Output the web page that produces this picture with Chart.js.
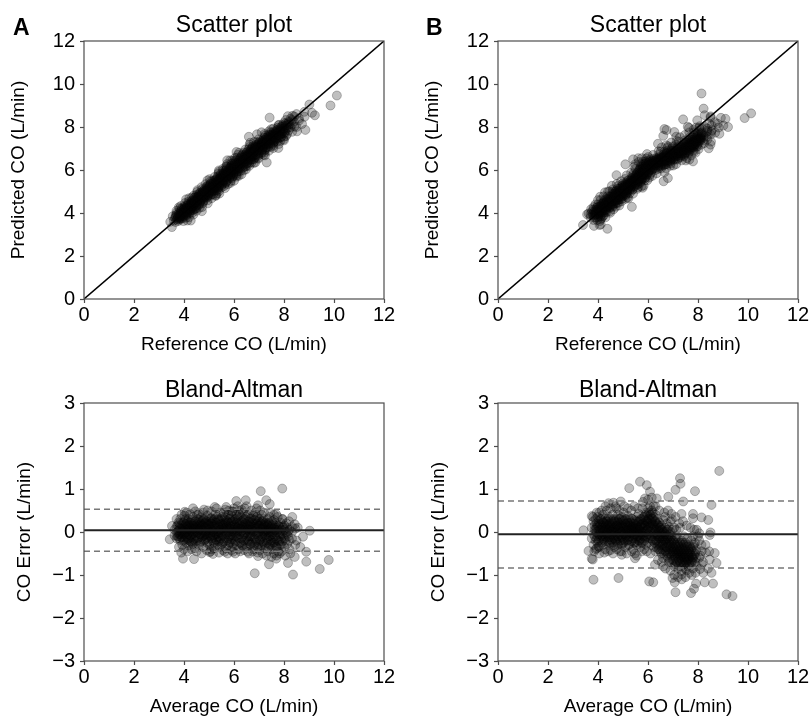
<!DOCTYPE html>
<html><head><meta charset="utf-8">
<script src="https://cdn.jsdelivr.net/npm/chart.js@4.4.1/dist/chart.umd.min.js"></script>
<style>
html,body{margin:0;padding:0;background:#fff;}
body{width:811px;height:718px;position:relative;overflow:hidden;}
.p{position:absolute;}
canvas{display:block;}
</style></head><body>
<div class="p" style="left:0;top:0;width:405px;height:360px"><canvas id="c1" width="405" height="360"></canvas></div>
<div class="p" style="left:414px;top:0;width:397px;height:360px"><canvas id="c2" width="397" height="360"></canvas></div>
<div class="p" style="left:0;top:360px;width:405px;height:358px"><canvas id="c3" width="405" height="358"></canvas></div>
<div class="p" style="left:414px;top:360px;width:397px;height:358px"><canvas id="c4" width="397" height="358"></canvas></div>
<script>
const FONT = "'Liberation Sans', Arial, sans-serif";

// axis ranges and tick labels
const scatterRange = [0, 12];
const errorRange = [-3, 3];
const xTicks = [0, 2, 4, 6, 8, 10, 12];
const scatterYTicks = [0, 2, 4, 6, 8, 10, 12];
const errorYTicks = [-3, -2, -1, 0, 1, 2, 3];

// Bland-Altman bias and limits of agreement
const biasA = 0.04, upperA = 0.53, lowerA = -0.45;
const biasB = -0.05, upperB = 0.72, lowerB = -0.84;

// Model A: [average CO, [CO errors...]]
const coreA = [
[3.62,[0.05,-0.08]],
[3.70,[0.12,-0.02,-0.15]],
[3.78,[0.22,0.03,-0.1]],
[3.85,[0.08,-0.2,0.3,-0.05]],
[3.93,[0.15,-0.12,0.02,-0.3]],
[4.02,[0.25,0.05,-0.18,-0.05,0.38]],
[4.10,[0.12,-0.25,0.0,0.2,-0.1]],
[4.18,[0.3,0.07,-0.15,-0.32,0.16]],
[4.27,[0.02,0.22,-0.08,0.1,-0.22]],
[4.35,[0.35,-0.05,0.15,-0.28,0.06]],
[4.43,[0.1,-0.15,0.25,0.0,-0.38]],
[4.52,[0.18,-0.02,0.4,-0.2,0.08]],
[4.60,[0.05,0.28,-0.12,-0.3,0.14]],
[4.68,[-0.06,0.2,0.1,-0.22,0.34]],
[4.77,[0.15,-0.1,0.03,0.3,-0.35]],
[4.85,[0.0,0.22,-0.18,0.12,-0.05]],
[4.93,[0.38,-0.25,0.08,0.18,-0.12]],
[5.02,[0.1,-0.3,0.25,-0.02,0.15]],
[5.10,[-0.15,0.05,0.32,0.2,-0.4]],
[5.18,[0.12,-0.08,0.0,0.28,-0.25]],
[5.27,[0.22,-0.18,0.08,0.42,-0.05]],
[5.35,[-0.3,0.15,0.02,-0.12,0.3]],
[5.43,[0.05,0.25,-0.2,0.12,-0.35]],
[5.52,[0.35,-0.1,0.18,0.0,-0.28]],
[5.60,[0.1,-0.22,0.3,0.05,0.45]],
[5.68,[-0.05,0.2,-0.38,0.12,0.28]],
[5.77,[0.4,0.0,-0.15,0.22,-0.3]],
[5.85,[0.15,-0.25,0.08,0.32,-0.08]],
[5.93,[-0.12,0.25,0.02,-0.35,0.48]],
[6.02,[0.3,0.1,-0.2,0.0,0.18]],
[6.10,[-0.3,0.2,0.4,-0.08,0.05]],
[6.18,[0.12,-0.15,0.28,-0.4,0.5]],
[6.27,[0.0,0.35,-0.25,0.15,0.08]],
[6.35,[0.22,-0.1,0.45,-0.32,0.1]],
[6.43,[-0.05,0.3,0.12,-0.2,0.55]],
[6.52,[0.18,-0.35,0.05,0.38,-0.12]],
[6.60,[0.25,0.02,-0.22,0.12,0.42]],
[6.68,[-0.1,0.32,0.15,-0.3,0.05]],
[6.77,[0.2,-0.18,0.38,0.0,-0.4]],
[6.85,[0.08,0.28,-0.25,0.12,0.45]],
[6.93,[-0.05,0.2,-0.35,0.35,0.1]],
[7.02,[0.15,-0.2,0.3,0.02,-0.42]],
[7.10,[0.25,-0.1,0.08,-0.3,0.4]],
[7.18,[-0.02,0.18,-0.25,0.3,0.1]],
[7.27,[0.12,-0.38,0.22,-0.12,0.02]],
[7.35,[-0.2,0.3,0.05,-0.45,0.15]],
[7.43,[0.2,-0.1,-0.3,0.08,0.35]],
[7.52,[-0.05,0.15,-0.4,0.25,-0.2]],
[7.60,[0.1,-0.25,0.0,-0.5,0.28]],
[7.68,[-0.15,0.2,-0.35,0.05]],
[7.77,[0.05,-0.2,0.15,-0.45]],
[7.85,[-0.1,0.22,-0.3,0.0]],
[7.93,[0.12,-0.22,-0.05,0.3]],
[8.02,[-0.15,0.05,-0.35,0.15]],
[8.12,[0.1,-0.28,-0.05]],
[8.22,[-0.2,0.05,-0.4]],
[8.32,[0.0,-0.15,0.12]],
[8.45,[-0.3,0.08]]
];
const denseA = [
[3.74,[0.0,0.15,-0.1]],
[3.81,[0.1,-0.05,0.2,-0.15]],
[3.89,[0.0,0.18,-0.12,0.08]],
[3.97,[0.22,-0.05,0.1,-0.2,0.02]],
[4.06,[0.08,-0.12,0.18,0.3,-0.02]],
[4.14,[-0.05,0.15,0.25,-0.18,0.05]],
[4.22,[0.1,-0.2,0.02,0.22,-0.08]],
[4.31,[0.15,-0.12,0.28,0.0,-0.25]],
[4.39,[-0.02,0.2,0.08,-0.18,0.12]],
[4.47,[0.25,-0.08,0.05,0.15,-0.22]],
[4.56,[0.0,0.12,-0.15,0.3,0.06]],
[4.64,[0.18,-0.05,-0.25,0.08,0.22]],
[4.72,[0.05,0.25,-0.12,-0.02,0.15]],
[4.81,[-0.2,0.1,0.2,-0.08,0.3]],
[4.89,[0.12,-0.15,0.02,0.25,-0.05]],
[4.97,[-0.08,0.18,0.05,-0.22,0.28]],
[5.06,[0.2,-0.1,0.08,-0.02,0.32]],
[5.14,[0.02,0.25,-0.2,0.12,-0.08]],
[5.22,[-0.12,0.15,0.3,0.05,-0.28]],
[5.31,[0.1,-0.05,0.22,-0.18,0.35]],
[5.39,[0.28,0.0,-0.1,0.12,-0.22]],
[5.47,[-0.15,0.18,0.05,0.3,-0.02]],
[5.56,[0.08,-0.25,0.2,-0.08,0.15]],
[5.64,[0.22,0.0,-0.15,0.35,0.1]],
[5.72,[-0.2,0.08,0.25,-0.05,0.15]],
[5.81,[0.1,-0.1,0.3,0.05,-0.25]],
[5.89,[0.0,0.22,-0.18,0.12,0.38]],
[5.97,[0.15,-0.28,0.05,0.25,-0.08]],
[6.06,[-0.1,0.12,0.3,-0.22,0.02]],
[6.14,[0.22,0.0,-0.12,0.35,0.1]],
[6.22,[-0.25,0.08,0.2,-0.05,0.4]],
[6.31,[0.12,-0.15,0.25,0.02,-0.3]],
[6.39,[0.3,-0.05,0.15,-0.2,0.05]],
[6.47,[0.0,0.2,-0.28,0.1,0.35]],
[6.56,[-0.1,0.25,0.08,-0.2,0.15]],
[6.64,[0.18,-0.1,0.3,-0.02,-0.28]],
[6.72,[0.05,-0.25,0.22,0.1,-0.1]],
[6.81,[-0.15,0.12,0.28,-0.3,0.02]],
[6.89,[0.2,-0.05,-0.2,0.1,0.32]],
[6.97,[0.0,0.15,-0.28,0.25,-0.1]],
[7.06,[-0.18,0.08,0.2,-0.05,-0.32]],
[7.14,[0.1,-0.22,0.02,0.25,-0.1]],
[7.22,[-0.08,0.15,-0.3,0.05,0.2]],
[7.31,[0.05,-0.15,0.18,-0.25,-0.02]],
[7.39,[-0.1,0.1,-0.35,0.0,0.22]],
[7.47,[0.02,-0.2,0.12,-0.3,-0.08]],
[7.56,[-0.15,0.08,-0.25,0.18,0.0]],
[7.64,[0.05,-0.1,-0.3,0.15]],
[7.72,[-0.2,0.0,0.1,-0.35]],
[7.81,[-0.05,0.12,-0.22]],
[7.89,[0.05,-0.15,-0.3]],
[7.97,[-0.08,0.1]],
[8.07,[0.0,-0.2]],
[8.17,[-0.1,0.02]]
];
// sparser points around the dense core: [average, error]
const haloA = [
[3.7,0.3],[3.8,-0.35],[3.9,0.4],[4.0,-0.4],[4.1,0.45],[4.15,-0.45],[4.25,0.42],[4.3,-0.4],
[4.45,0.48],[4.5,-0.45],[4.6,0.42],[4.7,-0.5],[4.75,0.45],[4.9,-0.42],[4.95,0.5],[5.05,-0.45],
[5.1,0.48],[5.2,-0.38],[5.3,0.55],[5.4,-0.48],[5.45,0.45],[5.55,-0.42],[5.65,0.52],[5.75,-0.5],
[5.8,0.5],[5.9,-0.42],[6.0,0.55],[6.05,-0.5],[6.15,0.6],[6.25,-0.45],[6.3,0.52],[6.4,-0.42],
[6.5,0.6],[6.6,-0.5],[6.7,0.5],[6.75,-0.45],[6.9,0.55],[6.95,-0.48],[7.05,0.5],[7.15,-0.5],
[7.2,0.45],[7.3,-0.55],[7.45,0.45],[7.5,-0.58],[7.6,0.4],[7.7,-0.55],[7.75,0.35],[7.9,-0.45],
[7.95,0.3],[8.05,-0.55],[8.2,0.25],[8.25,-0.5],[8.5,-0.2],[8.55,0.1],[8.65,-0.35]
];
const outA = [
[7.07,0.95],[7.93,1.01],[7.29,0.74],[7.43,0.65],[6.96,0.62],[6.47,0.74],[6.09,0.72],
[5.23,0.58],[4.36,0.55],[4.8,0.52],[4.03,0.47],[8.33,0.35],[7.69,0.41],[8.09,0.2],
[8.43,0.18],[9.03,0.03],[8.76,-0.11],[8.89,-0.46],[8.89,-0.69],[9.43,-0.86],[9.79,-0.65],
[8.36,-0.99],[6.83,-0.96],[7.4,-0.75],[8.16,-0.72],[8.43,-0.58],[7.69,-0.62],[7.83,-0.5],
[6.96,-0.56],[4.4,-0.63],[3.96,-0.62],[3.89,-0.48],[3.43,-0.17],[3.52,0.14],[5.16,-0.51],
[5.03,-0.47],[5.63,-0.46],[5.96,-0.46],[6.56,-0.46],[5.93,0.47],[5.69,0.58]
];

// Model B
const coreB = [
[3.75,[0.1,-0.15]],
[3.82,[0.25,-0.05,-0.3]],
[3.90,[0.05,0.3,-0.2,-0.4]],
[3.98,[-0.1,0.15,0.35,-0.25]],
[4.05,[0.2,-0.05,-0.35,0.05,0.45]],
[4.13,[0.1,-0.2,0.3,-0.08]],
[4.20,[-0.3,0.22,0.0,0.4,-0.15]],
[4.28,[0.12,-0.1,0.3,-0.4,0.05]],
[4.35,[0.25,-0.22,0.05,0.5,-0.05]],
[4.43,[-0.12,0.18,-0.3,0.08,0.35]],
[4.50,[0.02,0.3,-0.18,0.12,-0.42]],
[4.58,[0.2,-0.08,0.4,-0.25,0.05]],
[4.65,[-0.15,0.1,0.25,-0.35,0.0]],
[4.73,[0.3,-0.02,0.15,-0.2,0.55]],
[4.80,[0.08,-0.3,0.22,-0.1,0.4]],
[4.88,[-0.2,0.12,0.3,-0.45,0.02]],
[4.95,[0.15,-0.12,0.35,0.0,-0.3]],
[5.03,[0.25,-0.05,-0.25,0.1,0.45]],
[5.10,[-0.1,0.18,-0.35,0.3,0.05]],
[5.18,[0.05,-0.2,0.22,-0.05,0.38]],
[5.25,[0.15,-0.3,0.0,0.28,-0.12]],
[5.33,[-0.22,0.1,0.32,-0.02,0.5]],
[5.40,[0.2,-0.15,0.05,-0.4,0.12]],
[5.48,[-0.05,0.28,-0.25,0.08,-0.5]],
[5.55,[0.12,-0.1,0.35,-0.3,0.02]],
[5.63,[0.25,-0.2,0.05,-0.05,0.42]],
[5.70,[-0.15,0.15,-0.35,0.3,0.0]],
[5.78,[0.1,-0.25,0.2,-0.08,0.55]],
[5.85,[0.35,0.0,-0.2,0.15,-0.4]],
[5.93,[0.05,0.45,-0.12,0.25,-0.3]],
[6.00,[0.3,-0.05,0.55,0.12,-0.25]],
[6.08,[0.4,0.15,-0.15,0.6,0.02]],
[6.15,[0.2,0.5,-0.1,0.32,-0.3]],
[6.23,[-0.05,0.35,0.1,-0.35,0.6]],
[6.30,[0.25,-0.2,0.05,0.4,-0.45]],
[6.38,[-0.1,0.18,-0.3,0.3,-0.05]],
[6.45,[0.1,-0.4,-0.15,0.22,0.0]],
[6.53,[-0.25,0.05,-0.5,0.15,-0.1]],
[6.60,[0.0,-0.3,0.28,-0.15,-0.6]],
[6.68,[-0.2,0.1,-0.45,-0.05,0.35]],
[6.75,[-0.35,0.05,-0.15,-0.55,0.2]],
[6.83,[-0.1,-0.4,0.12,-0.25,-0.7]],
[6.90,[-0.3,0.0,-0.5,-0.15,0.25]],
[6.98,[-0.45,-0.2,0.05,-0.65,-0.35]],
[7.05,[-0.25,-0.55,0.1,-0.4,-0.8]],
[7.13,[-0.5,-0.1,-0.35,-0.7,0.05]],
[7.20,[-0.3,-0.6,-0.15,-0.45,-0.85]],
[7.28,[-0.55,-0.25,-0.7,-0.4,0.1]],
[7.35,[-0.35,-0.65,-0.2,-0.5,-0.9]],
[7.43,[-0.6,-0.3,-0.75,-0.45,-0.1]],
[7.50,[-0.4,-0.7,-0.55,-0.25,-0.85]],
[7.58,[-0.65,-0.35,-0.5,-0.8,-0.15]],
[7.65,[-0.45,-0.6,-0.3,-0.75]],
[7.73,[-0.55,-0.2,-0.7,-0.4]],
[7.80,[-0.35,-0.6,-0.85,-0.1]],
[7.88,[-0.5,-0.25,-0.7]],
[7.95,[-0.4,0.05,-0.8]],
[8.05,[-0.6,-0.2]],
[8.15,[-0.45,-0.75]]
];
const denseB = [
[3.86,[0.05,-0.1,0.15]],
[3.94,[0.0,0.2,-0.15,0.1]],
[4.02,[0.12,-0.05,0.25,-0.2]],
[4.09,[0.0,0.18,-0.12,0.3,0.05]],
[4.17,[0.15,-0.1,0.05,-0.25,0.25]],
[4.24,[0.02,0.2,-0.18,0.1,-0.05]],
[4.32,[-0.12,0.1,0.25,-0.02,0.18]],
[4.39,[0.05,-0.2,0.15,0.3,-0.08]],
[4.47,[0.2,0.0,-0.12,0.1,-0.25]],
[4.54,[-0.05,0.15,0.05,-0.2,0.25]],
[4.62,[0.1,-0.12,0.3,0.0,-0.3]],
[4.69,[0.02,0.2,-0.08,0.12,-0.18]],
[4.77,[-0.1,0.05,0.25,-0.25,0.15]],
[4.84,[0.18,-0.05,0.08,-0.15,0.3]],
[4.92,[0.0,0.22,-0.2,0.1,-0.08]],
[4.99,[0.12,-0.15,0.28,0.02,-0.25]],
[5.07,[-0.05,0.1,0.2,-0.2,0.0]],
[5.14,[0.15,-0.08,0.3,-0.12,0.05]],
[5.22,[0.0,0.2,-0.18,0.1,-0.3]],
[5.29,[-0.1,0.05,0.22,-0.02,0.15]],
[5.37,[0.08,-0.2,0.12,0.3,-0.05]],
[5.44,[0.2,-0.1,0.02,-0.25,0.1]],
[5.52,[-0.02,0.15,-0.15,0.25,0.05]],
[5.59,[0.1,-0.25,0.0,0.2,-0.1]],
[5.67,[0.05,0.25,-0.12,0.12,-0.2]],
[5.74,[-0.05,0.18,0.0,-0.25,0.3]],
[5.82,[0.2,-0.1,0.1,0.35,-0.02]],
[5.89,[0.0,0.28,-0.15,0.15,0.4]],
[5.97,[0.2,0.05,0.38,-0.1,0.25]],
[6.04,[0.1,0.3,-0.08,0.45,0.2]],
[6.12,[0.25,0.0,0.4,0.1,-0.15]],
[6.19,[0.05,0.3,-0.2,0.18,0.45]],
[6.27,[0.15,-0.1,0.25,-0.25,0.0]],
[6.34,[-0.05,0.1,-0.2,0.2,-0.35]],
[6.42,[0.05,-0.25,-0.1,0.15,-0.4]],
[6.49,[-0.15,0.0,-0.3,0.1,-0.45]],
[6.57,[-0.2,-0.05,-0.4,0.05,-0.3]],
[6.64,[-0.1,-0.35,0.0,-0.5,-0.2]],
[6.72,[-0.25,-0.1,-0.45,0.0,-0.35]],
[6.79,[-0.3,-0.15,-0.5,0.05,-0.6]],
[6.87,[-0.2,-0.45,-0.05,-0.35,-0.65]],
[6.94,[-0.4,-0.25,-0.55,-0.1,-0.7]],
[7.02,[-0.35,-0.5,-0.2,-0.65,-0.45]],
[7.09,[-0.45,-0.3,-0.6,-0.15,-0.75]],
[7.17,[-0.4,-0.55,-0.25,-0.7,-0.5]],
[7.24,[-0.5,-0.35,-0.65,-0.45,-0.8]],
[7.32,[-0.45,-0.6,-0.3,-0.75,-0.55]],
[7.39,[-0.55,-0.4,-0.7,-0.5,-0.25]],
[7.47,[-0.5,-0.65,-0.35,-0.6,-0.75]],
[7.54,[-0.45,-0.6,-0.7,-0.3]],
[7.62,[-0.55,-0.4,-0.65,-0.5]],
[7.69,[-0.5,-0.65,-0.35]],
[7.77,[-0.45,-0.6,-0.7]],
[7.84,[-0.55,-0.3]],
[7.92,[-0.6,-0.45]]
];
const haloB = [
[3.8,0.35],[3.85,-0.45],[3.95,0.45],[4.05,-0.5],[4.15,0.5],[4.25,-0.48],[4.3,0.6],[4.4,-0.45],
[4.5,0.55],[4.6,-0.5],[4.7,0.6],[4.75,-0.4],[4.85,0.5],[4.95,-0.45],[5.05,0.6],[5.15,-0.5],
[5.2,0.55],[5.35,-0.45],[5.45,0.6],[5.55,-0.55],[5.6,0.55],[5.75,-0.45],[5.8,0.7],[5.95,-0.45],
[6.0,0.75],[6.1,-0.5],[6.15,0.8],[6.3,0.6],[6.4,-0.65],[6.45,0.5],[6.55,-0.7],[6.65,0.45],
[6.7,-0.85],[6.8,0.5],[6.9,-0.9],[6.95,0.3],[7.05,-1.0],[7.1,0.35],[7.2,-1.05],[7.25,0.2],
[7.35,-1.1],[7.4,0.25],[7.5,-1.05],[7.55,0.15],[7.65,-0.95],[7.7,0.1],[7.75,-1.0],[7.85,0.05],
[7.9,-0.95],[8.0,-0.1],[8.1,-0.55],[8.2,-0.7],[8.3,-0.3],[8.4,-0.85],[8.45,-0.45]
];
const outB = [
[8.85,1.42],[7.28,1.25],[7.30,1.12],[7.88,0.95],[7.1,0.98],[7.41,0.71],[6.81,0.82],
[5.68,1.17],[5.95,1.09],[5.25,1.02],[6.08,0.94],[6.35,0.78],[5.88,0.78],[4.91,0.71],
[4.62,0.68],[4.42,0.67],[8.54,0.63],[7.8,0.42],[8.14,0.34],[8.41,0.28],[7.8,0.32],
[7.34,0.42],[6.94,0.42],[8.5,-0.01],[8.47,-0.07],[8.05,-0.03],[8.14,-0.3],[8.67,-0.49],
[8.31,-0.48],[8.74,-0.72],[8.47,-0.64],[8.54,-0.95],[8.6,-1.2],[8.27,-1.17],[9.14,-1.45],
[9.38,-1.49],[7.92,-1.2],[7.84,-1.32],[7.72,-1.42],[7.1,-1.4],[7.07,-1.17],[6.98,-1.07],
[6.21,-1.17],[6.05,-1.15],[4.82,-1.07],[3.82,-1.11],[3.75,-0.62],[3.79,-0.64],[3.62,-0.44],
[3.42,0.04],[3.75,0.37],[4.02,-0.34],[3.95,-0.38],[4.95,-0.53],[5.48,-0.61],[6.28,-0.76],
[6.61,-0.8],[7.34,-0.99],[7.54,-0.89],[8.08,-0.86],[8.21,-0.95],[7.8,-0.64]
];

function pairs(cols, singles) {
  const res = [];
  cols.forEach(c => c.forEach(([m, es]) => es.forEach(e => res.push([m, e]))));
  singles.forEach(s => s.forEach(p => res.push(p)));
  return res;
}
const fmt = v => (v < 0 ? '\u2212' + Math.abs(v) : String(v));

const panelPlugin = {
  id: 'panel',
  afterDraw(chart, args, o) {
    const {ctx, chartArea: a} = chart;
    ctx.save();
    ctx.strokeStyle = '#4d4d4d';
    ctx.lineWidth = 1.2;
    ctx.strokeRect(a.left, a.top, a.right - a.left, a.bottom - a.top);
    ctx.fillStyle = '#000';
    ctx.textBaseline = 'alphabetic';
    ctx.textAlign = 'center';
    ctx.font = '23px ' + FONT;
    ctx.fillText(o.title, (a.left + a.right) / 2, a.top - o.titleGap);
    if (o.letter) {
      ctx.textAlign = 'left';
      ctx.font = 'bold 23px ' + FONT;
      ctx.fillText(o.letter, a.left - o.letterDx, a.top - 6);
    }
    ctx.restore();
  }
};

function scaleCfg(range, ticks, title, fit, isX, titlePad) {
  return {
    type: 'linear',
    min: range[0], max: range[1],
    afterBuildTicks: s => { s.ticks = ticks.map(v => ({value: v})); },
    afterFit: s => { if (isX) s.height = fit; else s.width = fit; },
    ticks: {
      font: {family: FONT, size: 20}, color: '#000',
      padding: isX ? 0 : 5, maxRotation: 0, autoSkip: false,
      callback: v => fmt(v)
    },
    grid: {drawOnChartArea: false, drawTicks: true, tickLength: 4, tickColor: '#4d4d4d', tickWidth: 1.2, color: '#4d4d4d'},
    border: {display: false},
    title: {display: true, text: title, color: '#000', font: {family: FONT, size: 19}, padding: titlePad}
  };
}

function makeChart(id, kind, model, cfg) {
  const pts = pairs([model.core, model.dense], [model.halo, model.out]);
  const datasets = [];
  let yRange, yTicks, yTitle, xTitle, title;
  const marker = {pointRadius: 4.5, pointBorderWidth: 1, backgroundColor: 'rgba(0,0,0,0.25)', borderColor: 'rgba(0,0,0,0.25)'};
  if (kind === 'scatter') {
    datasets.push({type: 'line', data: [{x: scatterRange[0], y: scatterRange[0]}, {x: scatterRange[1], y: scatterRange[1]}],
      borderColor: '#000', borderWidth: 1.5, pointRadius: 0, fill: false});
    datasets.push(Object.assign({type: 'scatter', data: pts.map(([m, e]) => ({x: m - e / 2, y: m + e / 2}))}, marker));
    yRange = scatterRange; yTicks = scatterYTicks; yTitle = 'Predicted CO (L/min)'; xTitle = 'Reference CO (L/min)'; title = 'Scatter plot';
  } else {
    datasets.push({type: 'line', data: [{x: scatterRange[0], y: model.bias}, {x: scatterRange[1], y: model.bias}],
      borderColor: '#222', borderWidth: 2, pointRadius: 0, fill: false});
    [model.upper, model.lower].forEach(v => datasets.push({type: 'line', data: [{x: scatterRange[0], y: v}, {x: scatterRange[1], y: v}],
      borderColor: '#777', borderWidth: 1.5, borderDash: [6, 4], pointRadius: 0, fill: false}));
    datasets.push(Object.assign({type: 'scatter', data: pts.map(([m, e]) => ({x: m, y: e}))}, marker));
    yRange = errorRange; yTicks = errorYTicks; yTitle = 'CO Error (L/min)'; xTitle = 'Average CO (L/min)'; title = 'Bland-Altman';
  }
  new Chart(document.getElementById(id), {
    data: {datasets},
    options: {
      responsive: false, animation: false, events: [],
      layout: {padding: cfg.padding},
      scales: {
        x: scaleCfg(scatterRange, xTicks, xTitle, cfg.xh, true, {top: 0, bottom: cfg.xTitlePad}),
        y: scaleCfg(yRange, yTicks, yTitle, 84, false, {top: cfg.yTitlePad, bottom: 0})
      },
      plugins: {
        legend: {display: false}, tooltip: {enabled: false},
        panel: {title, titleGap: cfg.titleGap, letter: cfg.letter, letterDx: cfg.letterDx}
      }
    },
    plugins: [panelPlugin]
  });
}

const modelA = {core: coreA, dense: denseA, halo: haloA, out: outA, bias: biasA, upper: upperA, lower: lowerA};
const modelB = {core: coreB, dense: denseB, halo: haloB, out: outB, bias: biasB, upper: upperB, lower: lowerB};

makeChart('c1', 'scatter', modelA, {padding: {left: 0, top: 41, right: 21, bottom: 0}, xh: 61, xTitlePad: 3.5, yTitlePad: 7.6, titleGap: 9, letter: 'A', letterDx: 71});
makeChart('c2', 'scatter', modelB, {padding: {left: 0, top: 41, right: 13, bottom: 0}, xh: 61, xTitlePad: 3.5, yTitlePad: 7.6, titleGap: 9, letter: 'B', letterDx: 72});
makeChart('c3', 'ba', modelA, {padding: {left: 0, top: 43, right: 21, bottom: 0}, xh: 57, xTitlePad: 0, yTitlePad: 13.6, titleGap: 6, letter: null, letterDx: 0});
makeChart('c4', 'ba', modelB, {padding: {left: 0, top: 43, right: 13, bottom: 0}, xh: 57, xTitlePad: 0, yTitlePad: 13.6, titleGap: 6, letter: null, letterDx: 0});
</script>
</body></html>
